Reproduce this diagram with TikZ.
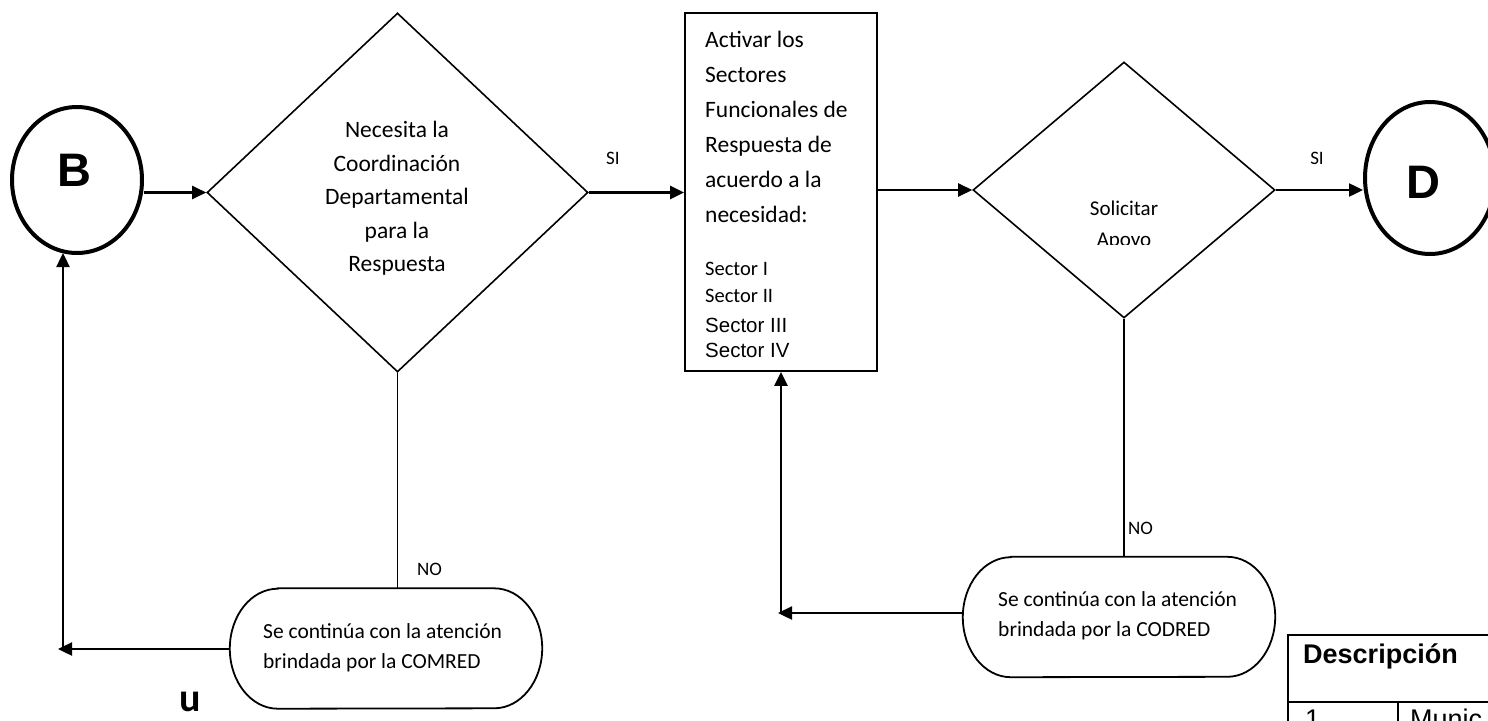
\documentclass[tikz,border=0pt]{standalone}
\usepackage{fontspec}
\setmainfont{Carlito}
\newfontfamily\arialfont{Liberation Sans}
\usetikzlibrary{shapes.geometric,arrows.meta,calc}
\newcommand\contpath[1]{\draw[line width=1.8pt] ($(#1.north west)+(48,0)$) -- ($(#1.north east)+(-48,0)$)
  arc[start angle=-90,end angle=0,x radius=48,y radius=60]
  arc[start angle=0,end angle=90,x radius=48,y radius=60]
  -- ($(#1.south west)+(48,0)$)
  arc[start angle=90,end angle=270,x radius=48,y radius=60] -- cycle;}
\begin{document}
\begin{tikzpicture}[x=1pt,y=-1pt,
  arr/.style={line width=2.4pt,-{Triangle[length=14pt,width=13pt]}},
  ln/.style={line width=1.8pt},
  dia/.style={diamond,draw,line width=1.6pt,inner sep=0pt},
  term/.style={ellipse,draw,line width=4pt,inner sep=0pt},
  cont/.style={rectangle,draw=none,minimum width=312pt,minimum height=120pt,inner sep=0pt},
  big/.style={inner sep=0pt,align=center,font=\fontsize{23.5}{33.5}\selectfont},
  txt/.style={inner sep=0pt,align=left,font=\fontsize{21.5}{30}\selectfont},
  lbl/.style={inner sep=0pt,font=\fontsize{19}{22}\selectfont},
  letter/.style={inner sep=0pt,font=\arialfont\bfseries\fontsize{47}{50}\selectfont},
]
\useasboundingbox (0,0) rectangle (1488,720);

% terminals
\node[term,minimum width=130pt,minimum height=146pt] (B) at (77,180) {};
\node[letter] (Bt) at (74,170) {B};
\node[term,minimum width=130pt,minimum height=152pt] (D) at (1430,178) {};
\node[letter] (Dt) at (1423,182) {D};

% decision 1
\node[dia,minimum width=381pt,minimum height=359pt] (d1) at (397.5,192.5) {};
\node[big,anchor=north] (d1t) at (397,121) {Necesita la\\Coordinación\\Departamental\\para la\\Respuesta};

% process box
\node[draw,line width=1.8pt,minimum width=192pt,minimum height=358pt,inner sep=0pt] (box) at (781,192) {};
\node[inner sep=0pt,align=left,anchor=north west,font=\fontsize{23.5}{35}\selectfont] (boxt) at (705,31)
  {Activar los\\Sectores\\Funcionales de\\Respuesta de\\acuerdo a la\\necesidad:};
\node[inner sep=0pt,align=left,anchor=north west,font=\fontsize{20.5}{27}\selectfont] (s12) at (705,262)
  {Sector I\\Sector II};
\node[inner sep=0pt,align=left,anchor=north west,font=\arialfont\fontsize{20.5}{25}\selectfont] (s34) at (705,318)
  {Sector III\\Sector IV};

% decision 2
\node[dia,minimum width=302pt,minimum height=256pt] (d2) at (1124,190) {};
\begin{scope}
  \clip (950,150) rectangle (1300,244);
  \node[inner sep=0pt,align=center,anchor=north,font=\fontsize{21}{31}\selectfont] (d2t) at (1124,201) {Solicitar\\Apoyo};
\end{scope}

% continuation nodes
\node[cont] (n1) at (386,648.5) {};
\contpath{n1}
\node[txt,anchor=north west] (n1t) at (263,623) {Se continúa con la atención\\brindada por la COMRED};
\node[cont] (n2) at (1119,617) {};
\contpath{n2}
\node[txt,anchor=north west] (n2t) at (998,591) {Se continúa con la atención\\brindada por la CODRED};

% connectors
\draw[arr] (d1.west -| B.east) -- (d1.west);
\draw[arr] (d1.east) -- (d1.east -| box.west);
\node[lbl] (si1) at (613,158) {SI};
\draw[arr] (box.east |- d2.west) -- (d2.west);
\draw[arr] (d2.east) -- (d2.east -| D.west);
\node[lbl] (si2) at (1317,158) {SI};

\draw[ln] (d1.south) -- (d1.south |- n1.north);
\node[lbl,anchor=base west] (no1) at (417,575) {NO};
\coordinate (c1) at (58,649);
\coordinate (c1v) at (63,650);
\draw[arr] (n1.west |- c1) -- (c1);
\draw[arr] (c1v) -- (63,253);

\draw[ln] (d2.south) -- (d2.south |- n2.north);
\node[lbl,anchor=base west] (no2) at (1128,534) {NO};
\coordinate (c2) at (778,613);
\coordinate (c2v) at (781,614);
\draw[arr] ($(n2.west |- c2)+(1,0)$) -- (c2);
\draw[arr] (c2v) -- (box.south);

\node[inner sep=0pt,font=\bfseries\fontsize{40}{40}\selectfont] (u) at (190,702) {u};

% table fragment
\draw[line width=2pt] (1288,722) -- (1288,635) -- (1492,635);
\draw[line width=2pt] (1288,702) -- (1492,702);
\draw[line width=2pt] (1398,702) -- (1398,722);
\node[inner sep=0pt,anchor=base west,font=\arialfont\bfseries\fontsize{27}{30}\selectfont] (desc) at (1303,663) {Descripción};
\node[inner sep=0pt,anchor=base west,font=\arialfont\fontsize{27}{30}\selectfont] (r1) at (1305,728) {1};
\node[inner sep=0pt,anchor=base west,font=\arialfont\fontsize{27}{30}\selectfont] (r1b) at (1410,728) {Munic};
\end{tikzpicture}
\end{document}
